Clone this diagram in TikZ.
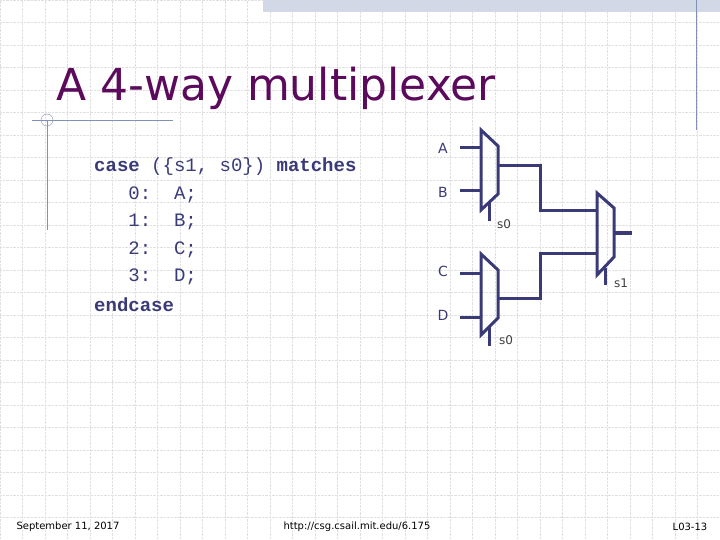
\documentclass[tikz,border=0pt]{standalone}
\usepackage{fontspec}
\setmainfont{DejaVu Sans}
\setmonofont{Liberation Mono}
\usetikzlibrary{positioning}
\definecolor{wire}{HTML}{3A3A78}
\definecolor{title}{HTML}{5C0A5C}
\definecolor{deco}{HTML}{8090B8}
\tikzset{
	mux/.style={draw=wire,line width=3pt,line join=miter},
	wireline/.style={draw=wire,line width=3pt},
	pin/.style={font=\fontsize{14}{14}\selectfont,text=wire,inner sep=1pt},
	sel/.style={font=\fontsize{12}{12}\selectfont,text=black!75,inner sep=1pt,anchor=west},
	code/.style={font=\ttfamily\fontsize{19}{19}\selectfont,text=wire,anchor=west,inner sep=0pt},
	foot/.style={font=\fontsize{10}{10}\selectfont,inner sep=0pt}
}
\begin{document}
\begin{tikzpicture}[x=1pt,y=-1pt]
	\useasboundingbox (0,0) rectangle (720,540);
	
	%% background grid
	\draw[black!12,densely dotted,step=22.5pt] (0,0) grid (720,540);
	\fill[deco!35] (263,0) rectangle (720,12);
	\draw[deco] (696,0) -- (696,130);
	\draw[deco] (32,120) -- (173,120);
	\draw[deco] (47,120) -- (47,230);
	\draw[deco] (47,120) circle (6);
	
	%% title
	\node[anchor=west,text=title,font=\fontsize{44}{44}\selectfont,inner sep=0pt] (T) at (56,88) {A 4-way multiplexer};
	
	%% code
	\node[code] (L1) at (94,167) {\textbf{case} (\{s1, s0\}) \textbf{matches}};
	\node[code] (L2) at (94,194.5) {~~~0:~~A;};
	\node[code] (L3) at (94,222) {~~~1:~~B;};
	\node[code] (L4) at (94,249.5) {~~~2:~~C;};
	\node[code] (L5) at (94,277) {~~~3:~~D;};
	\node[code] (L6) at (94,304.5) {\textbf{endcase}};
	
	%% mux shapes
	\draw[mux] (481,130) -- (498,146) -- (498,194) -- (481,210) -- cycle;
	\draw[mux] (481,254) -- (498,270) -- (498,318) -- (481,335) -- cycle;
	\draw[mux] (597,193) -- (614,208) -- (614,257) -- (597,275) -- cycle;
	
	%% inputs
	\node[pin] (A) at (443,148) {A};
	\node[pin] (B) at (443,192) {B};
	\node[pin] (C) at (443,271) {C};
	\node[pin] (D) at (443,315) {D};
	\coordinate (a) at (481,148);
	\coordinate (b) at (481,191);
	\coordinate (c) at (481,273);
	\coordinate (d) at (481,317);
	\draw[wireline] (460,148) -- (a);
	\draw[wireline] (460,191) -- (b);
	\draw[wireline] (460,273) -- (c);
	\draw[wireline] (460,317) -- (d);
	
	%% internal wires
	\draw[wireline] (498,166) -- (540,166) -- (540,211) -- (597,211);
	\draw[wireline] (498,298) -- (540,298) -- (540,253) -- (597,253);
	\draw[wireline] (614,233) -- (632,233);
	
	%% selects
	\draw[wireline] (489,203) -- (489,221);
	\draw[wireline] (489,327) -- (489,346);
	\draw[wireline] (605,268) -- (605,285);
	\node[sel] (s0a) at (496,224) {s0};
	\node[sel] (s0b) at (498,340) {s0};
	\node[sel] (s1) at (613,283) {s1};
	
	%% footer
	\node[foot] (date) at (68,527) {September 11, 2017};
	\node[foot] (url) at (357,527) {http://csg.csail.mit.edu/6.175};
	\node[foot] (page) at (690,527) {L03-13};
\end{tikzpicture}
\end{document}
